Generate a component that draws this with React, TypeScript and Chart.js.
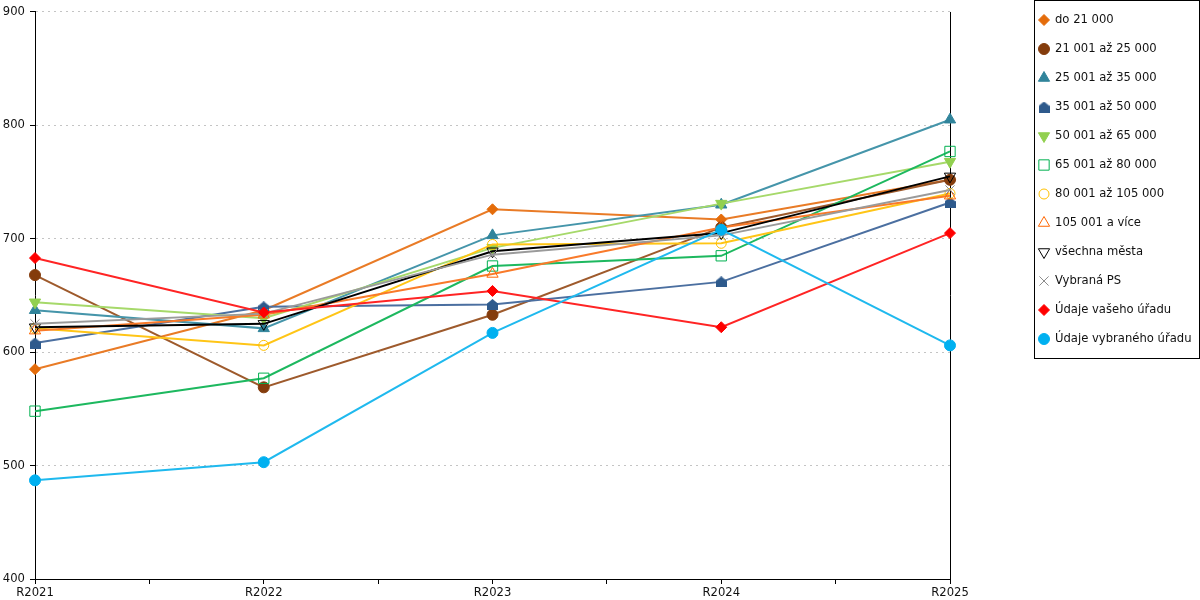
import { useEffect, useRef } from 'react';
import { Chart, registerables } from 'chart.js';
import { drawPoint } from 'chart.js/helpers';

Chart.register(...registerables);

const categories = ['R2021', 'R2022', 'R2023', 'R2024', 'R2025'];
const yTicks = [400, 500, 600, 700, 800, 900];

const labels = [
  'do 21 000',
  '21 001 až 25 000',
  '25 001 až 35 000',
  '35 001 až 50 000',
  '50 001 až 65 000',
  '65 001 až 80 000',
  '80 001 až 105 000',
  '105 001 a více',
  'všechna města',
  'Vybraná PS',
  'Údaje vašeho úřadu',
  'Údaje vybraného úřadu',
];

const do21 = [585, 637, 726, 717, 752];
const do25 = [668, 569, 633, 710, 752];
const do35 = [637, 621, 703, 730, 805];
const do50 = [608, 640, 642, 662, 732];
const do65 = [644, 630, 692, 731, 768];
const do80 = [548, 577, 676, 685, 777];
const do105 = [621, 606, 695, 696, 740];
const nad105 = [619, 633, 669, 710, 738];
const vsechnaMesta = [622, 625, 689, 705, 755];
const vybranaPS = [625, 634, 686, 703, 743];
const vasUrad = [683, 635, 654, 622, 705];
const vybranyUrad = [487, 503, 617, 708, 606];

const seriesValues = [do21, do25, do35, do50, do65, do80, do105, nad105, vsechnaMesta, vybranaPS, vasUrad, vybranyUrad];

const FONT = '"DejaVu Sans"';
const FONT_SIZE = 11.6;

// house-shaped marker for 35 001 až 50 000
function makePentagon(color: string) {
  const c = document.createElement('canvas');
  c.width = 11;
  c.height = 11;
  const g = c.getContext('2d')!;
  g.fillStyle = color;
  g.beginPath();
  g.moveTo(5.5, 0);
  g.lineTo(11, 4.5);
  g.lineTo(11, 11);
  g.lineTo(0, 11);
  g.lineTo(0, 4.5);
  g.closePath();
  g.fill();
  return c;
}

const none = 'rgba(0,0,0,0)';

const styles = [
  { line: '#e97b26', fill: '#e46c0a', stroke: '#e46c0a', point: 'rectRot', r: 5.5, rot: 0 },
  { line: '#9e5a2c', fill: '#843c0c', stroke: '#843c0c', point: 'circle', r: 5.5, rot: 0 },
  { line: '#4595aa', fill: '#31849b', stroke: '#31849b', point: 'triangle', r: 6.5, rot: 0 },
  { line: '#4b6fa0', fill: '#2e5a8c', stroke: '#2e5a8c', point: 'pentagon', r: 6, rot: 0 },
  { line: '#a6d96a', fill: '#92d050', stroke: '#92d050', point: 'triangle', r: 6.5, rot: 180 },
  { line: '#1db85f', fill: none, stroke: '#00b050', point: 'rect', r: 7.3, rot: 0 },
  { line: '#ffc516', fill: none, stroke: '#ffc000', point: 'circle', r: 5, rot: 0 },
  { line: '#f97a2a', fill: none, stroke: '#ff6600', point: 'triangle', r: 6.5, rot: 0 },
  { line: '#000000', fill: none, stroke: '#000000', point: 'triangle', r: 6.5, rot: 180 },
  { line: '#9a9a9a', fill: none, stroke: '#8c8c8c', point: 'crossRot', r: 6.5, rot: 0 },
  { line: '#ff2424', fill: '#ff0000', stroke: '#ff0000', point: 'rectRot', r: 5.5, rot: 0 },
  { line: '#1fb9ee', fill: '#00b0f0', stroke: '#00b0f0', point: 'circle', r: 5.5, rot: 0 },
];

const legendBox = {
  id: 'legendBox',
  afterDraw(chart: any) {
    const { ctx } = chart;
    ctx.save();
    ctx.strokeStyle = '#000';
    ctx.lineWidth = 1;
    ctx.strokeRect(1034.5, 0.5, 165, 358);
    chart.data.datasets.forEach((ds: any, i: number) => {
      const y = 20 + i * 29;
      ctx.fillStyle = ds.pointBackgroundColor;
      ctx.strokeStyle = ds.pointBorderColor;
      ctx.lineWidth = 1;
      drawPoint(ctx, { pointStyle: ds.pointStyle, rotation: ds.pointRotation, radius: ds.pointRadius, borderWidth: 1 }, 1044, y);
      ctx.fillStyle = '#111';
      ctx.font = `${FONT_SIZE}px ${FONT}`;
      ctx.textAlign = 'left';
      ctx.textBaseline = 'middle';
      ctx.fillText(ds.label, 1055, y);
    });
    ctx.restore();
  },
};

export default function App() {
  const canvasRef = useRef<HTMLCanvasElement | null>(null);

  useEffect(() => {
    if (!canvasRef.current) return;
    const pentagon = makePentagon('#2e5a8c');

    const datasets = seriesValues.map((vals, i) => {
      const s = styles[i];
      return {
        label: labels[i],
        data: vals.map((v, j) => ({ x: j, y: v })),
        borderColor: s.line,
        borderWidth: 2,
        backgroundColor: s.fill,
        pointStyle: s.point === 'pentagon' ? pentagon : s.point,
        pointRotation: s.rot,
        pointRadius: s.r,
        pointBackgroundColor: s.fill,
        pointBorderColor: s.stroke,
        pointBorderWidth: 1,
        tension: 0,
        clip: false,
        order: seriesValues.length - i,
      };
    });

    const chart = new Chart(canvasRef.current, {
      type: 'line',
      data: { datasets: datasets as any },
      options: {
        animation: false,
        responsive: true,
        maintainAspectRatio: false,
        layout: { padding: { left: 0, top: 10, right: 250, bottom: 0 } },
        font: { family: FONT, size: FONT_SIZE },
        scales: {
          x: {
            type: 'linear',
            min: 0,
            max: categories.length - 1,
            afterFit: (scale: any) => {
              scale.height = 21;
            },
            afterBuildTicks: (scale: any) => {
              const t = [];
              for (let v = 0; v <= categories.length - 1; v += 0.5) t.push({ value: v });
              scale.ticks = t;
            },
            ticks: {
              autoSkip: false,
              maxRotation: 0,
              padding: 2,
              color: '#111',
              font: { family: FONT, size: FONT_SIZE },
              callback: (v: any) => (Number.isInteger(v) ? categories[v] : ''),
            },
            grid: {
              color: (c: any) => (c.tick && c.tick.value === categories.length - 1 ? '#000' : 'rgba(0,0,0,0)'),
              tickColor: '#000',
              tickLength: 5,
              lineWidth: 1,
            },
            border: { color: '#000', width: 1 },
          },
          y: {
            min: yTicks[0],
            max: yTicks[yTicks.length - 1],
            afterFit: (scale: any) => {
              scale.width = 35;
            },
            afterBuildTicks: (scale: any) => {
              scale.ticks = yTicks.map((v) => ({ value: v }));
            },
            ticks: {
              padding: 5,
              color: '#111',
              font: { family: FONT, size: FONT_SIZE },
            },
            grid: {
              color: (c: any) => (c.tick && c.tick.value === yTicks[0] ? 'rgba(0,0,0,0)' : '#c4c4c4'),
              tickColor: '#000',
              tickLength: 5,
            },
            border: { color: '#000', width: 1, dash: [2, 4] },
          },
        },
        plugins: {
          legend: { display: false },
          tooltip: { enabled: false },
        },
      },
      plugins: [legendBox],
    });

    return () => {
      chart.destroy();
    };
  }, []);

  return (
    <div style={{ position: 'absolute', left: 0, top: 0, width: 1200, height: 600, background: '#fff' }}>
      <canvas ref={canvasRef}></canvas>
    </div>
  );
}
